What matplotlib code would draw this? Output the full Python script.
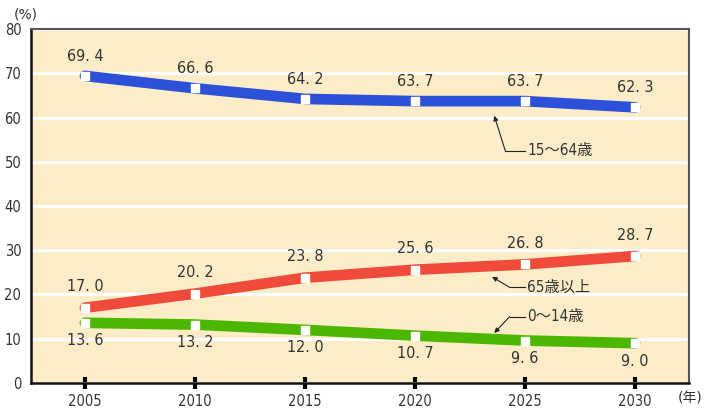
import matplotlib
matplotlib.use("Agg")
import matplotlib.pyplot as plt

years = [2005, 2010, 2015, 2020, 2025, 2030]
age_15_64 = [69.4, 66.6, 64.2, 63.7, 63.7, 62.3]
age_65_over = [17.0, 20.2, 23.8, 25.6, 26.8, 28.7]
age_0_14 = [13.6, 13.2, 12.0, 10.7, 9.6, 9.0]
y_ticks = [0, 10, 20, 30, 40, 50, 60, 70, 80]

NUM_FONT = ['DejaVu Sans']
JP_FONT = ['DejaVu Sans', 'Noto Sans CJK JP']
TXT = '#333333'

fig = plt.figure(figsize=(7.08, 4.12), dpi=100)
ax = fig.add_axes([0.0438, 0.0704, 0.9294, 0.8592])
ax.set_facecolor('#fdecc8')

series = [
    (age_15_64, '#2d50d9', 14),
    (age_65_over, '#f04a3a', 15),
    (age_0_14, '#4cb700', -13),
]
for vals, col, off in series:
    ax.plot(years, vals, color=col, lw=7.7, solid_capstyle='round',
            solid_joinstyle='round', zorder=3)
    ax.plot(years, vals, ls='none', marker='s', ms=5.5, mfc='white',
            mec='white', zorder=4)
    for x, v in zip(years, vals):
        ax.annotate(f'{v:.1f}'.replace('.', '. '), (x, v),
                    xytext=(0, off), textcoords='offset points',
                    ha='center', va='center', fontsize=11.5, color=TXT,
                    family=NUM_FONT, fontstretch='condensed')

ax.set_xlim(2002.55, 2032.45)
ax.set_ylim(0, 80)
ax.set_xticks(years)
ax.set_yticks(y_ticks)
ax.grid(axis='y', color='white', lw=2.2)
ax.set_axisbelow(True)
ax.tick_params(axis='y', length=0, pad=7, labelsize=10.5, labelcolor=TXT)
ax.tick_params(axis='x', direction='inout', length=8, width=3, color='black',
               pad=4, labelsize=10.5, labelcolor=TXT)
for lab in ax.get_xticklabels() + ax.get_yticklabels():
    lab.set_family(NUM_FONT)
    lab.set_fontstretch('condensed')

for side in ['left', 'bottom']:
    ax.spines[side].set_color('#111111')
    ax.spines[side].set_linewidth(1.8)
for side in ['top', 'right']:
    ax.spines[side].set_color('#555555')
    ax.spines[side].set_linewidth(1.5)

# leader lines with labels
def leader(text, pts, tx, ty):
    xs = [p[0] for p in pts]
    ys = [p[1] for p in pts]
    ax.plot(xs[1:], ys[1:], color='#222222', lw=0.8, zorder=5)
    ax.annotate('', xy=pts[0], xytext=pts[1],
                arrowprops=dict(arrowstyle='-|>', color='#222222', lw=0.8,
                                mutation_scale=7, shrinkA=0, shrinkB=0))
    ax.text(tx, ty, text, ha='left', va='center', fontsize=11, color=TXT,
            family=JP_FONT, fontstretch='condensed', zorder=5)

leader('15〜64歳', [(2023.6, 60.4), (2024.1, 52.5), (2025.0, 52.5)], 2025.1, 52.5)
leader('65歳以上', [(2023.5, 24.0), (2024.3, 21.6), (2025.0, 21.6)], 2025.1, 21.6)
leader('0〜14歳', [(2023.6, 11.3), (2024.3, 15.0), (2025.0, 15.0)], 2025.1, 15.0)

fig.text(26 / 708, 1 - 15 / 412, '(%)', ha='center', va='center',
         fontsize=10, color=TXT, family=JP_FONT)
fig.text(690 / 708, 1 - 399 / 412, '(年)', ha='center', va='center',
         fontsize=10, color=TXT, family=JP_FONT)

fig.savefig('out.png', dpi=100)
